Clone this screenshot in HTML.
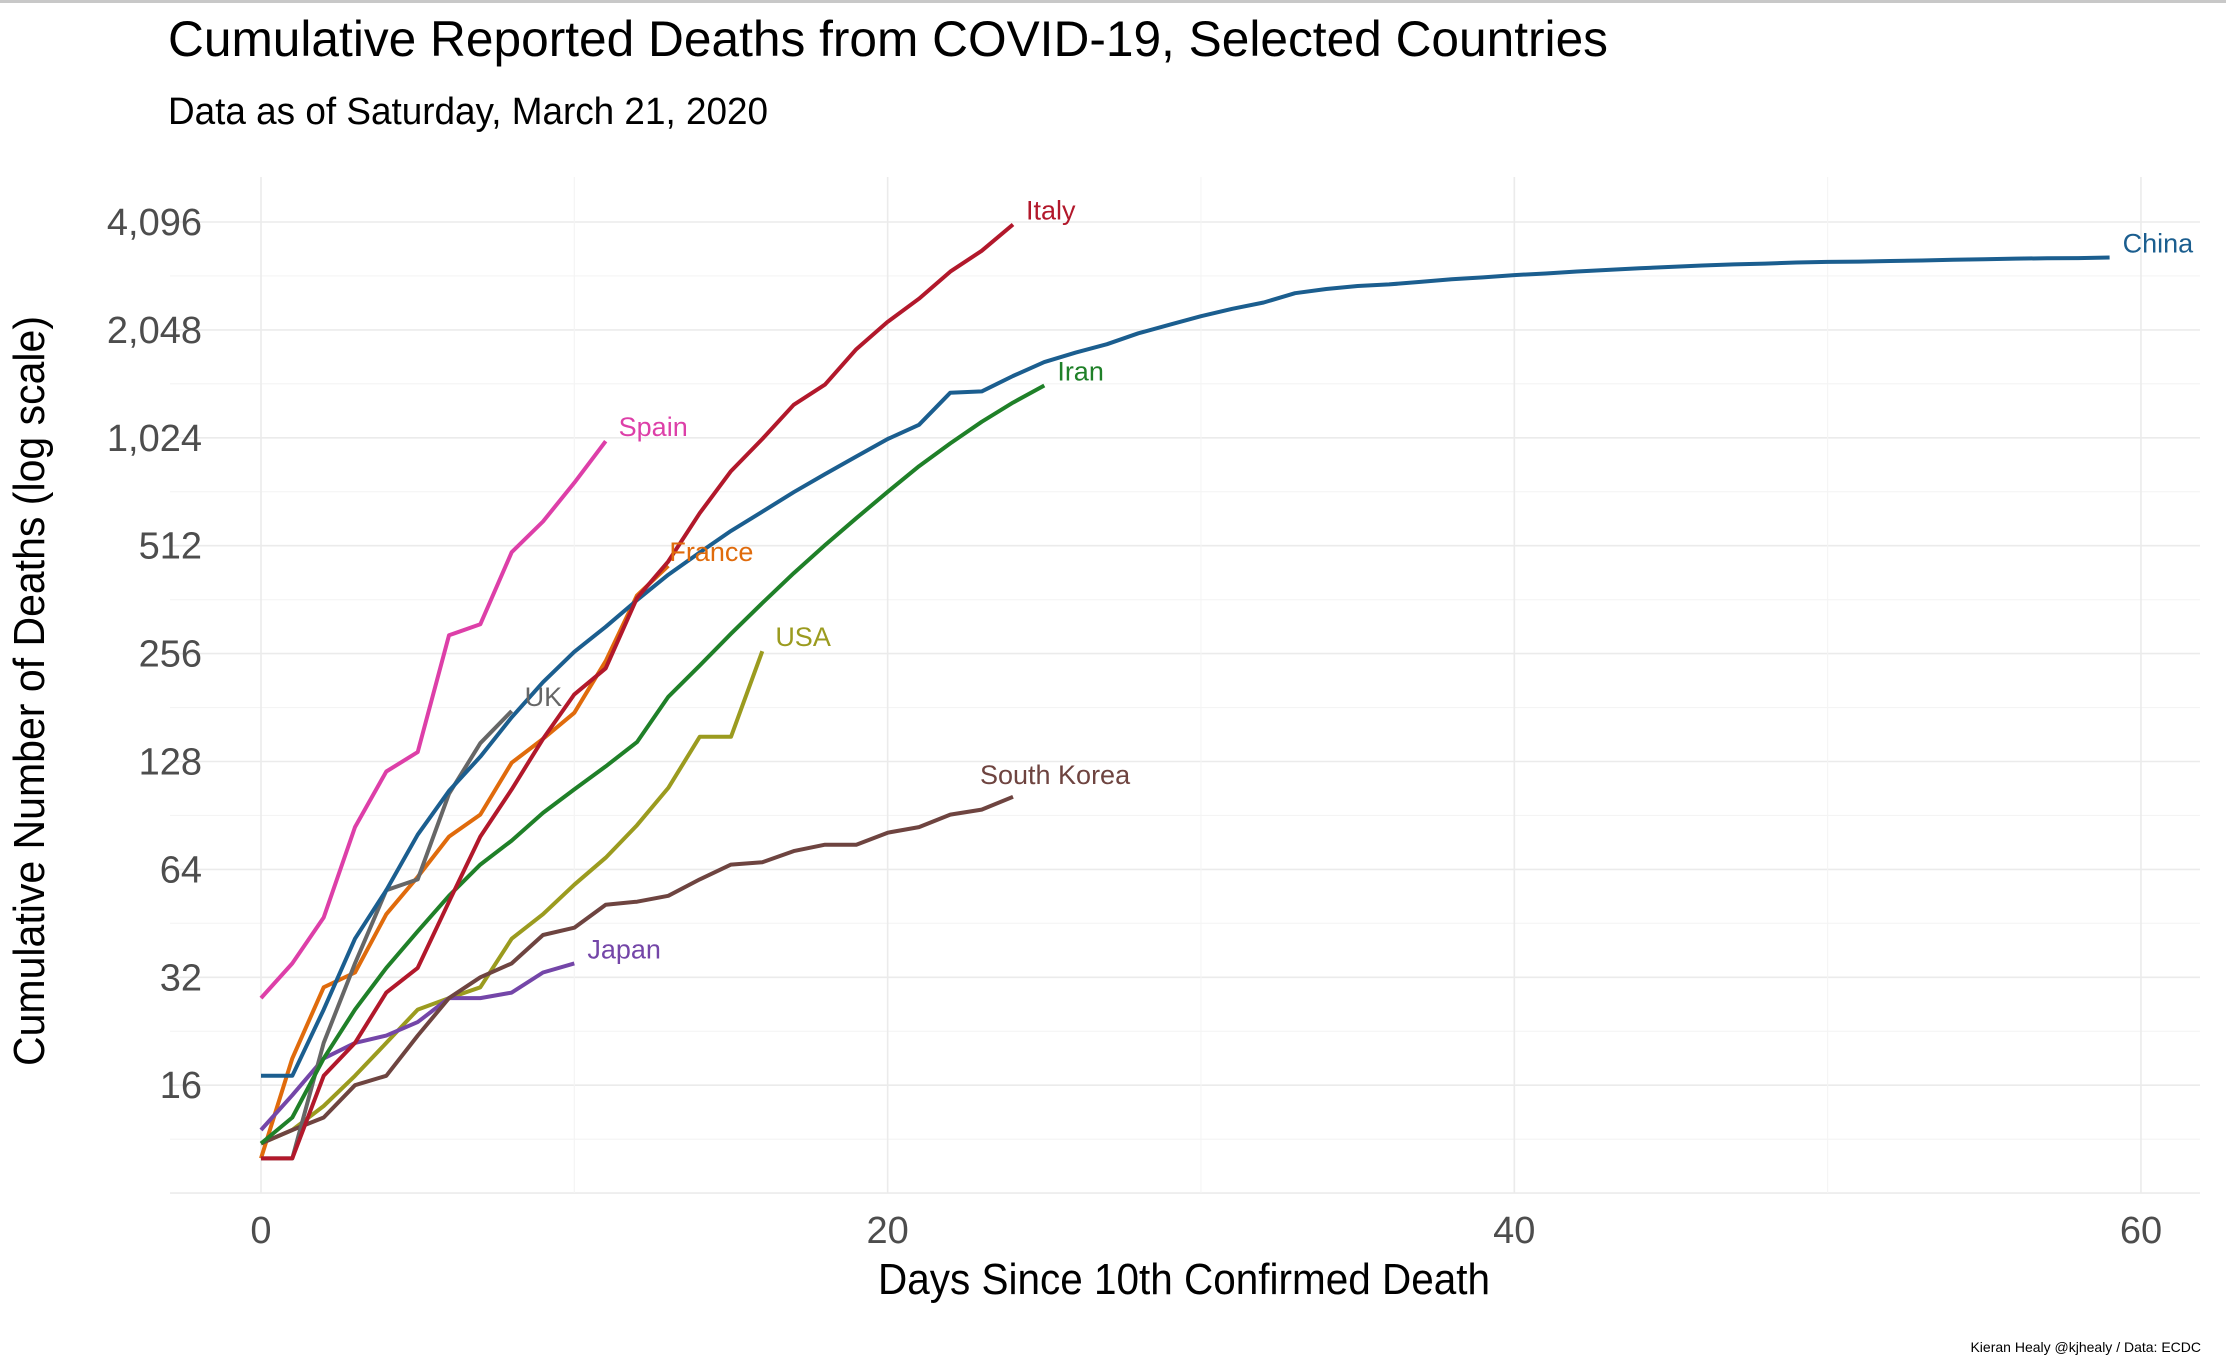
<!DOCTYPE html>
<html><head><meta charset="utf-8">
<style>
html,body{margin:0;padding:0;background:#fff;}
svg{display:block;}
text{font-family:"Liberation Sans Narrow","Liberation Sans",sans-serif;}
.lab{font-family:"Liberation Sans",sans-serif;font-size:27px;}
</style></head>
<body>
<svg id="chart" width="2226" height="1364" viewBox="0 0 2226 1364" xmlns="http://www.w3.org/2000/svg">
<rect x="0" y="0" width="2226" height="3" fill="#c8c8c8"/>
<text x="168" y="56" font-size="50" fill="#000" textLength="1440" lengthAdjust="spacingAndGlyphs">Cumulative Reported Deaths from COVID-19, Selected Countries</text>
<text x="168" y="124" font-size="38" fill="#000" textLength="600" lengthAdjust="spacingAndGlyphs">Data as of Saturday, March 21, 2020</text>
<g id="grid"></g>
<g id="yticks"></g>
<g id="xticks"></g>
<g id="series"></g>
<text x="1184" y="1294" font-size="44" text-anchor="middle" fill="#000" textLength="612" lengthAdjust="spacingAndGlyphs">Days Since 10th Confirmed Death</text>
<text transform="translate(44,691) rotate(-90)" font-size="44" text-anchor="middle" fill="#000" textLength="750" lengthAdjust="spacingAndGlyphs">Cumulative Number of Deaths (log scale)</text>
<text x="2201" y="1352" font-size="14" text-anchor="end" fill="#000">Kieran Healy @kjhealy / Data: ECDC</text>
</svg>
<script>
const countries = ["China","Italy","Iran","Spain","France","USA","UK","Japan","South Korea"];
const colors = ["#1b5e8f","#b2182b","#1f8028","#dd3fa8","#e06b0c","#9b9b1f","#666666","#7446a8","#6e4440"];
const china = [17,17,26,41,56,80,106,132,170,213,259,304,361,425,490,563,637,722,811,908,1016,1113,1368,1380,1523,1665,1770,1868,2004,2118,2236,2345,2442,2592,2663,2715,2744,2788,2835,2870,2912,2943,2981,3012,3042,3070,3097,3119,3136,3158,3169,3176,3189,3199,3213,3226,3237,3245,3248,3260];
const italy = [10,10,17,21,29,34,52,79,107,148,197,233,366,463,631,827,1016,1266,1441,1809,2158,2503,2978,3405,4032];
const iran = [11,13,19,26,34,43,54,66,77,92,107,124,145,194,237,291,354,429,514,611,724,853,988,1135,1284,1433];
const spain = [28,35,47,84,120,136,288,309,491,598,767,1002];
const france = [10,19,30,33,48,61,79,91,127,148,175,244,372,450];
const usa = [11,12,14,17,21,26,28,30,41,48,58,69,85,108,150,150,260];
const uk = [10,10,21,35,56,60,104,144,177];
const japan = [12,15,19,21,22,24,28,28,29,33,35];
const korea = [11,12,13,16,17,22,28,32,35,42,44,51,52,54,60,66,67,72,75,75,81,84,91,94,102];
const seriesData = [china,italy,iran,spain,france,usa,uk,japan,korea];
const yTicks = [16,32,64,128,256,512,1024,2048,4096];
const yTickLabels = ["16","32","64","128","256","512","1,024","2,048","4,096"];
const xTicks = [0,20,40,60];

const NS="http://www.w3.org/2000/svg";
const X0=261, XPX=31.333, Y4096=222, YDBL=107.9;
const PL=170, PR=2200, PT=177, PB=1193;
function xs(d){return X0+d*XPX;}
function ys(v){return Y4096+(12-Math.log2(v))*YDBL;}
function mk(tag,attrs,parent){const e=document.createElementNS(NS,tag);for(const k in attrs)e.setAttribute(k,attrs[k]);parent.appendChild(e);return e;}

const grid=document.getElementById('grid');
for(let k=6;k<=25;k++){
  const v=Math.pow(2,k/2); const y=ys(v);
  if(y<PT-1||y>PB+1) continue;
  const l=mk('line',{x1:PL,x2:PR,y1:y,y2:y,stroke:k%2===0?'#ebebeb':'#f4f4f4','stroke-width':k%2===0?1.6:1.1},grid);
  
  
}
for(let d=0;d<=60;d+=10){
  const x=xs(d);
  const l=mk('line',{x1:x,x2:x,y1:PT,y2:PB,stroke:d%20===0?'#ebebeb':'#f4f4f4','stroke-width':d%20===0?1.6:1.1},grid);
  
  
}
const yt=document.getElementById('yticks');
yTicks.forEach((v,i)=>{
  const t=mk('text',{x:202,y:ys(v)+13,'font-size':38,'text-anchor':'end',fill:'#4d4d4d'},yt);
  t.textContent=yTickLabels[i];
  
  
});
const xt=document.getElementById('xticks');
xTicks.forEach(d=>{
  const t=mk('text',{x:xs(d),y:1243,'font-size':38,'text-anchor':'middle',fill:'#4d4d4d'},xt);
  t.textContent=String(d);
  
  
});
const sg=document.getElementById('series');
const order=[4,5,7,8,6,2,0,1,3];
order.forEach(i=>{
  const vals=seriesData[i];
  const pts=vals.map((v,d)=>xs(d).toFixed(1)+','+ys(v).toFixed(1)).join(' ');
  const p=mk('polyline',{points:pts,fill:'none',stroke:colors[i],'stroke-width':4,'stroke-linejoin':'round'},sg);
  
  
});
seriesData.forEach((vals,i)=>{
  const d=vals.length-1;
  const dx = countries[i]==="South Korea" ? -33 : (countries[i]==="France" ? 1 : 13);
  const dy = countries[i]==="South Korea" ? -13 : -5;
  const t=mk('text',{x:xs(d)+dx,y:ys(vals[d])+dy,fill:colors[i],'class':'lab'},sg);
  t.textContent=countries[i];
  
  
});
</script>
</body></html>
